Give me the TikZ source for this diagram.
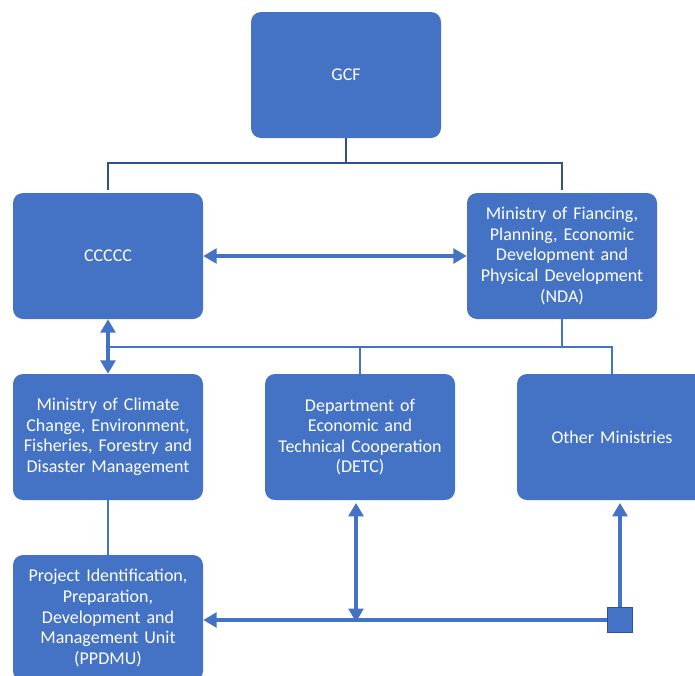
\documentclass[tikz,border=0pt]{standalone}
\usepackage{fontspec}
\setmainfont{Carlito}
\usetikzlibrary{arrows.meta}
\definecolor{boxblue}{HTML}{4472C4}
\definecolor{darkblue}{HTML}{2F528F}
\begin{document}
\begin{tikzpicture}[x=0.75pt,y=-0.75pt,
    unit/.style={rectangle,rounded corners=7.5pt,fill=boxblue,text=white,minimum width=142.5pt,minimum height=94.5pt,text width=138pt,align=center,inner sep=2pt,font=\fontsize{13.5}{15.4}\selectfont},
    tip/.style={-{Triangle[width=11pt,length=10pt]}},
    dtip/.style={{Triangle[width=11pt,length=10pt]}-{Triangle[width=11pt,length=10pt]}}]
    \useasboundingbox (0,0) rectangle (695,675);
    \clip (0,0) rectangle (695,675);
    %units
    \node (GCF) at (346,75) [unit]{GCF};
    \node (CCC) at (108,256) [unit]{CCCCC};
    \node (NDA) at (562,256) [unit]{Ministry of Fiancing,\\ Planning, Economic\\ Development and\\ Physical Development\\ (NDA)};
    \node (MCC) at (108,437) [unit]{Ministry of Climate\\ Change, Environment,\\ Fisheries, Forestry and\\ Disaster Management};
    \node (DETC) at (360,437) [unit]{Department of\\ Economic and\\ Technical Cooperation\\ (DETC)};
    \node (OTH) at (612,437) [unit]{Other Ministries};
    \node (PPD) at (108,618) [unit]{Project Identification,\\ Preparation,\\ Development and\\ Management Unit\\ (PPDMU)};
    \node (SQ) at (620,620) [rectangle,fill=boxblue,draw=darkblue,line width=1.2pt,minimum size=19pt,inner sep=0pt]{};

    %GCF tree
    \draw [darkblue,line width=1.2pt] (GCF.south) -- ++(0,25) coordinate (G);
    \draw [darkblue,line width=1.2pt] (G) -| ([yshift=2pt]CCC.north);
    \draw [darkblue,line width=1.2pt] (G) -| ([yshift=2pt]NDA.north);

    %CCCCC and NDA
    \draw [dtip,boxblue,line width=3pt] (CCC.east) -- (NDA.west);
    \draw [dtip,boxblue,line width=3pt] (CCC.south) -- (MCC.north);

    %NDA tree
    \coordinate (B) at (108,347);
    \draw [boxblue,line width=1.8pt] (NDA.south) -- (NDA.south |- B);
    \draw [boxblue,line width=1.8pt] (B) -- (B -| OTH.north) -- ([yshift=-2pt]OTH.north);
    \draw [boxblue,line width=1.8pt] (B -| DETC.north) -- ([yshift=-2pt]DETC.north);

    %PPDMU
    \draw [boxblue,line width=1.2pt] (MCC.south) -- (PPD.north);
    \coordinate (J) at (356,622);
    \draw [tip,boxblue,line width=2.4pt] (SQ.west) -- (SQ.west -| PPD.east);
    \draw [dtip,boxblue,line width=2.4pt] ([yshift=-2pt]J |- DETC.south) -- (J);
    \draw [tip,boxblue,line width=2.4pt] (SQ.north) -- ([yshift=-2pt]SQ.north |- OTH.south);
\end{tikzpicture}
\end{document}
